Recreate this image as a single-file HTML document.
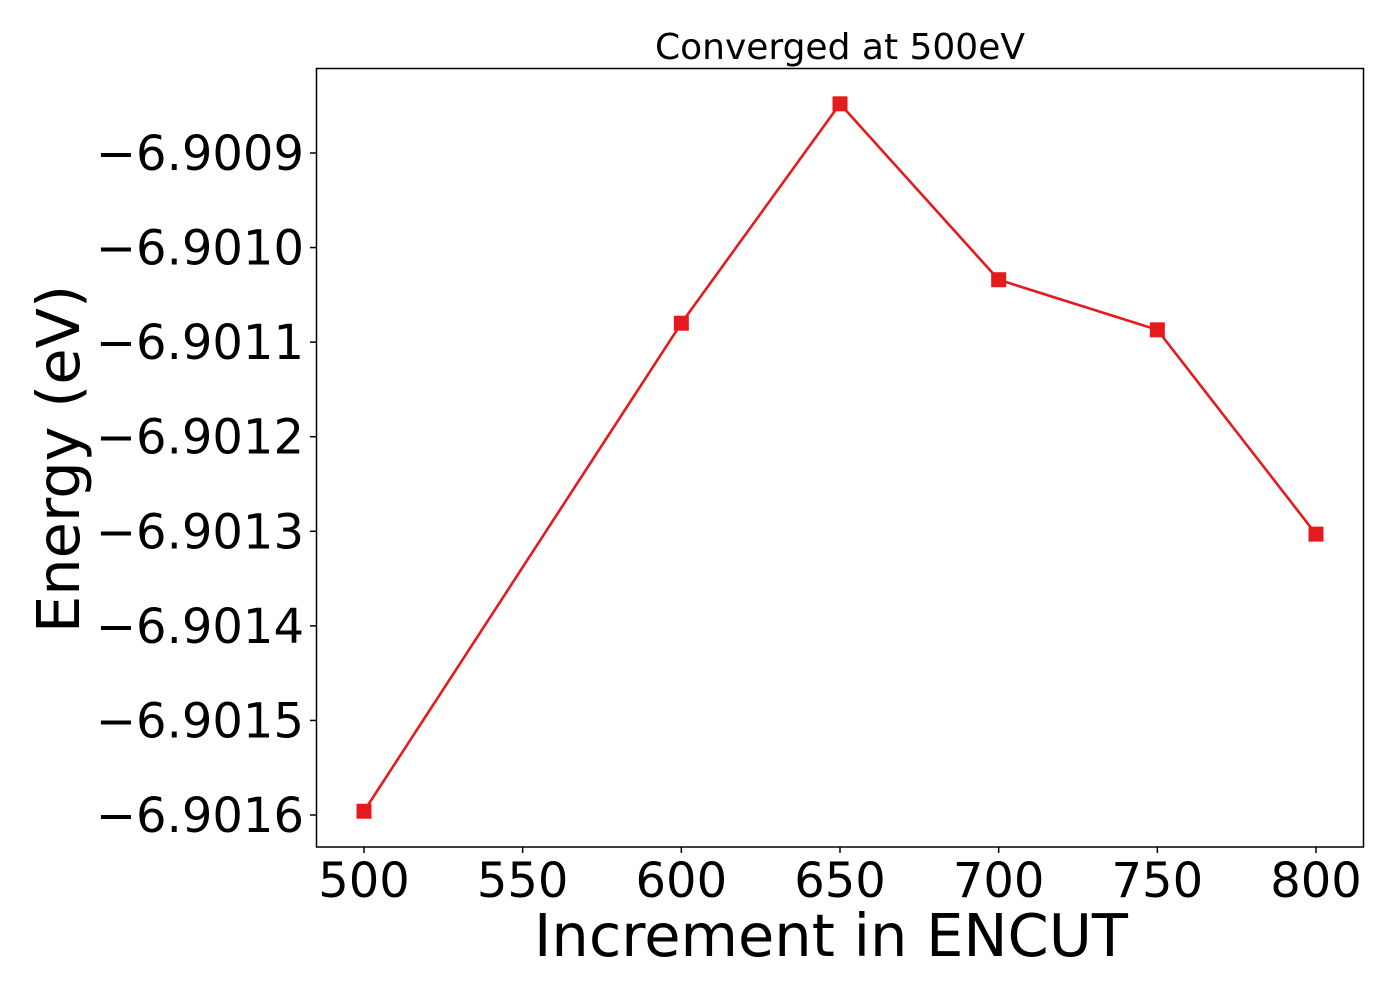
<!DOCTYPE html>
<html><head><meta charset="utf-8"><style>
html,body{margin:0;padding:0;background:#fff;}
svg text{font-family:"DejaVu Sans","Liberation Sans",sans-serif;fill:#000;}
</style></head><body>
<svg id="chart" width="1400" height="1000" xmlns="http://www.w3.org/2000/svg">
<rect width="1400" height="1000" fill="#fff"/>
<text x="840" y="59" font-size="36" text-anchor="middle">Converged at 500eV</text>
<g id="ticks"></g>
<g id="series"></g>
<rect x="316.5" y="68.5" width="1047" height="778.5" fill="none" stroke="#000" stroke-width="1.5"/>
<text x="831" y="956" font-size="59" text-anchor="middle">Increment in ENCUT</text>
<text transform="translate(79,459) rotate(-90)" font-size="59" text-anchor="middle">Energy (eV)</text>
</svg>
<script>
const xValues = [500, 600, 650, 700, 750, 800];
const energies = [-6.901596, -6.90108, -6.900848, -6.901034, -6.901087, -6.901303];
const xTicks = [500, 550, 600, 650, 700, 750, 800];
const yTicks = [-6.9009, -6.9010, -6.9011, -6.9012, -6.9013, -6.9014, -6.9015, -6.9016];
const yTickLabels = ["−6.9009","−6.9010","−6.9011","−6.9012","−6.9013","−6.9014","−6.9015","−6.9016"];

const NS = "http://www.w3.org/2000/svg";
function xs(v){ return 364 + (v - 500) * (1316 - 364) / 300; }
function ys(v){ return 815 + (v - (-6.9016)) * (153 - 815) / 0.0007; }
function mk(tag, attrs, parent){ const e = document.createElementNS(NS, tag); for (const k in attrs) e.setAttribute(k, attrs[k]); parent.appendChild(e); return e; }

const tg = document.getElementById('ticks');
xTicks.forEach(t => {
  const x = xs(t);
  const l = mk('line', {x1:x, x2:x, y1:847, y2:853, stroke:'#000', 'stroke-width':1.5}, tg);
  
  
  const tx = mk('text', {x:x, y:897, 'font-size':48, 'text-anchor':'middle'}, tg);
  tx.textContent = String(t);
  
  
});
yTicks.forEach((t, i) => {
  const y = ys(t);
  const l = mk('line', {x1:310, x2:317, y1:y, y2:y, stroke:'#000', 'stroke-width':1.5}, tg);
  
  
  const tx = mk('text', {x:304, y:y + 17, 'font-size':48, 'text-anchor':'end'}, tg);
  tx.textContent = yTickLabels[i];
  
  
});

const sg = document.getElementById('series');
const pts = xValues.map((v, i) => xs(v) + ',' + ys(energies[i])).join(' ');
const pl = mk('polyline', {points:pts, fill:'none', stroke:'#e41a1c', 'stroke-width':2.6}, sg);


xValues.forEach((v, i) => {
  const r = mk('rect', {x:xs(v) - 7.5, y:ys(energies[i]) - 7.5, width:15, height:15, fill:'#e41a1c'}, sg);
  
  
});
</script>
</body></html>
